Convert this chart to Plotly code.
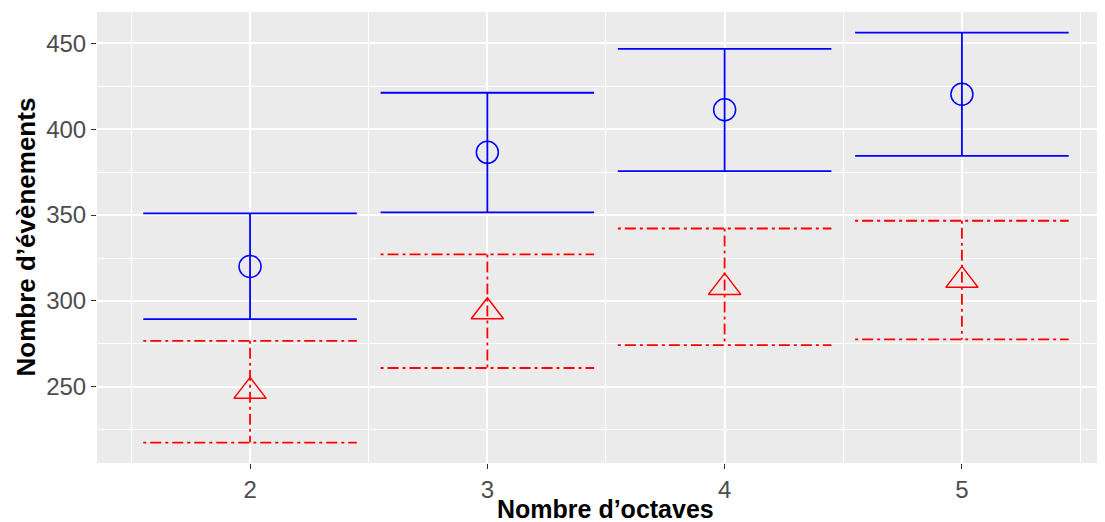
import plotly.graph_objects as go

octaves = [2, 3, 4, 5]
blue_mean = [320.1, 386.5, 411.3, 420.3]
blue_low = [289.4, 351.6, 375.6, 384.5]
blue_high = [351.0, 421.2, 446.7, 456.2]
red_mean = [247.4, 293.7, 307.9, 312.0]
red_low = [217.6, 261.0, 274.3, 277.6]
red_high = [276.8, 327.1, 342.2, 346.7]
y_ticks = [250, 300, 350, 400, 450]
half_w = 0.45


def bar_path(xs, lows, highs):
    px, py = [], []
    for x, lo, hi in zip(xs, lows, highs):
        px += [x - half_w, x + half_w, None, x, x, None, x - half_w, x + half_w, None]
        py += [hi, hi, None, hi, lo, None, lo, lo, None]
    return px, py


fig = go.Figure()

bx, by = bar_path(octaves, blue_low, blue_high)
fig.add_trace(go.Scatter(x=bx, y=by, mode="lines",
                         line=dict(color="#0000FF", width=1.8),
                         hoverinfo="skip", showlegend=False))
rx, ry = bar_path(octaves, red_low, red_high)
fig.add_trace(go.Scatter(x=rx, y=ry, mode="lines",
                         line=dict(color="#FF0000", width=1.8, dash="3px,4px,11px,4px"),
                         hoverinfo="skip", showlegend=False))
fig.add_trace(go.Scatter(x=octaves, y=blue_mean, mode="markers",
                         marker=dict(symbol="circle-open", size=22,
                                     color="#0000FF", line=dict(color="#0000FF", width=1.5)),
                         showlegend=False))
fig.add_trace(go.Scatter(x=octaves, y=red_mean, mode="markers",
                         marker=dict(symbol="triangle-up-open", size=28,
                                     color="#FF0000", line=dict(color="#FF0000", width=1.5)),
                         showlegend=False))

FONT = "Liberation Sans, Arial, sans-serif"
# page body has an 8px default margin: figure is sized/offset to compensate
fig.update_layout(
    width=1097, height=514,
    margin=dict(l=89, r=0, t=4, b=59),
    paper_bgcolor="white",
    plot_bgcolor="#EBEBEB",
    font=dict(family=FONT),
    annotations=[
        dict(text="<b>Nombre d’octaves</b>", xref="paper", yref="paper",
             x=0.504, y=0, yshift=-46, xanchor="center", yanchor="middle",
             showarrow=False, font=dict(size=25, color="black", family=FONT)),
        dict(text="<b>Nombre d’évènements</b>", xref="paper", yref="paper",
             x=0, xshift=-72, y=0.5, xanchor="center", yanchor="middle", textangle=-90,
             showarrow=False, font=dict(size=26, color="black", family=FONT)),
    ],
)
fig.update_xaxes(
    range=[1.355, 5.603], automargin=False,
    tickmode="array", tickvals=octaves, ticktext=[str(v) for v in octaves],
    showgrid=True, gridcolor="white", gridwidth=1.8,
    minor=dict(dtick=1, tick0=1.5, showgrid=True, gridcolor="white", gridwidth=0.9),
    ticks="outside", ticklen=5, tickwidth=1.2, tickcolor="#333333",
    tickfont=dict(size=24, color="#4D4D4D"),
    zeroline=False, showline=False,
)
fig.update_yaxes(
    range=[205.7, 468.2], automargin=False,
    tickmode="array", tickvals=y_ticks, ticktext=[str(v) for v in y_ticks],
    showgrid=True, gridcolor="white", gridwidth=1.8,
    minor=dict(dtick=50, tick0=225, showgrid=True, gridcolor="white", gridwidth=0.9),
    ticks="outside", ticklen=5, tickwidth=1.2, tickcolor="#333333",
    tickfont=dict(size=24, color="#4D4D4D"),
    zeroline=False, showline=False,
)

fig.write_html("out.html")
